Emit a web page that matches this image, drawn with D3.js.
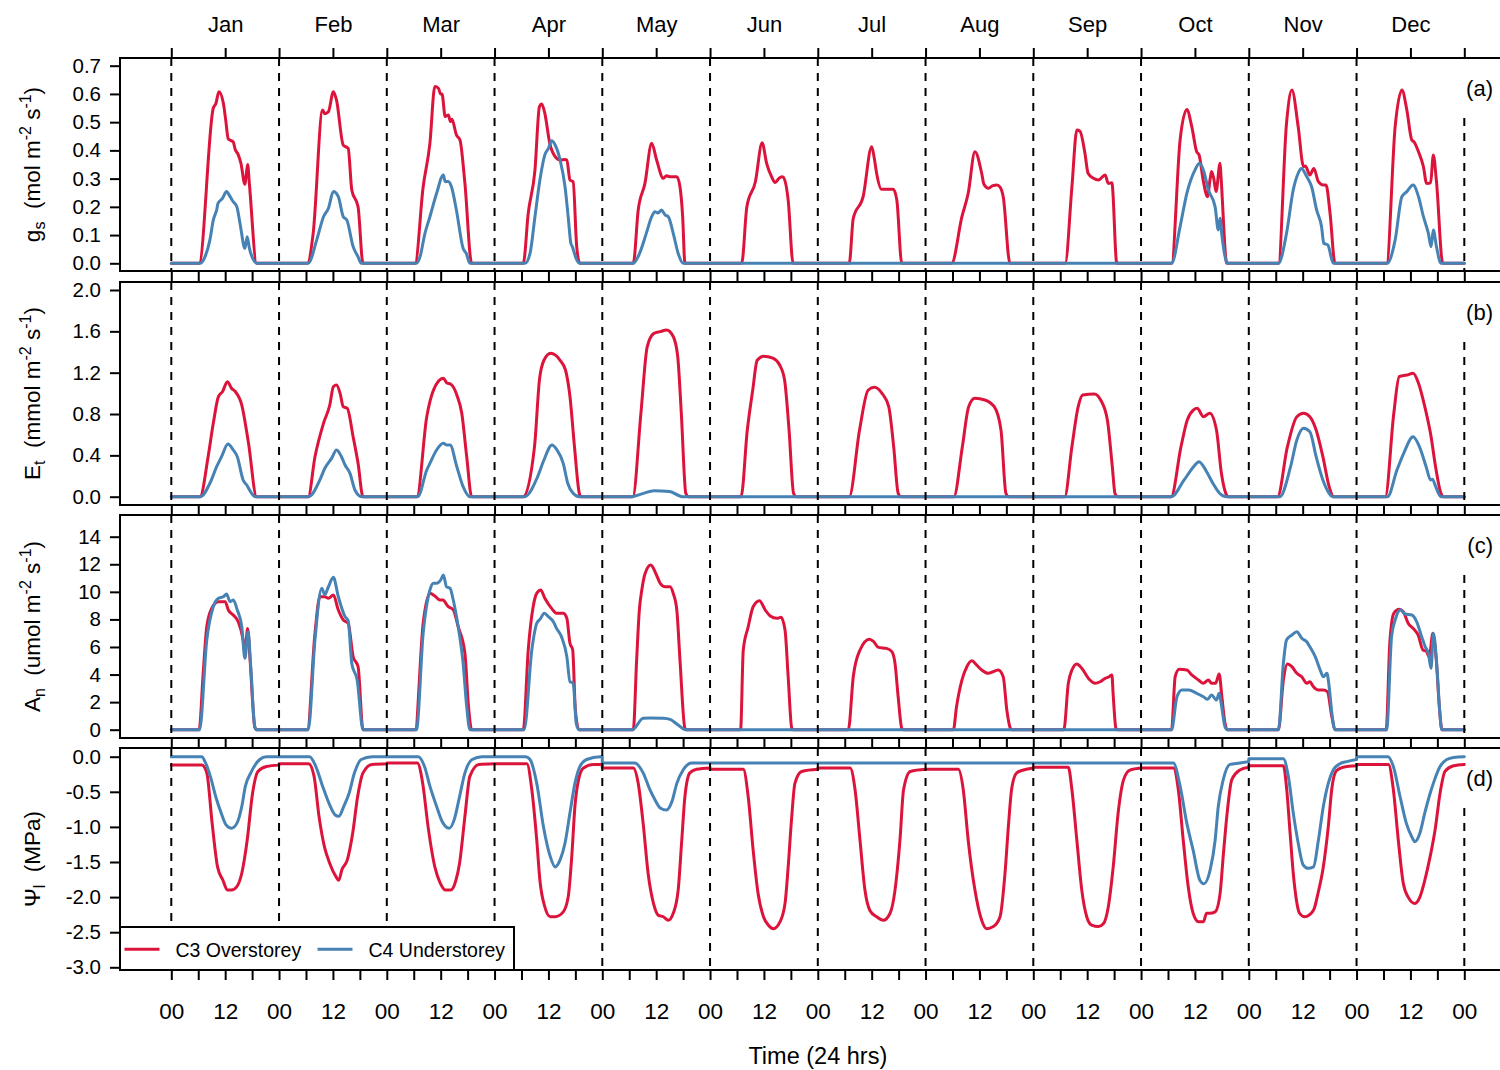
<!DOCTYPE html>
<html>
<head>
<meta charset="utf-8">
<script src="https://cdn.jsdelivr.net/npm/d3@7"></script>
<style>
  body { margin: 0; background: #fff; }
  svg { display: block; font-family: "Liberation Sans", Arial, Helvetica, sans-serif; }
</style>
</head>
<body>
<div id="wrapper"></div>
<script>
// Data: one list of [hour, value] readings per month (a single representative day)
const months = ["Jan", "Feb", "Mar", "Apr", "May", "Jun", "Jul", "Aug", "Sep", "Oct", "Nov", "Dec"];
const seriesNames = ["C3 Overstorey", "C4 Understorey"];

const gsTicks = [0, 0.1, 0.2, 0.3, 0.4, 0.5, 0.6, 0.7];
const etTicks = [0, 0.4, 0.8, 1.2, 1.6, 2.0];
const anTicks = [0, 2, 4, 6, 8, 10, 12, 14];
const psiTicks = [0, -0.5, -1.0, -1.5, -2.0, -2.5, -3.0];

// (a) stomatal conductance, mol m-2 s-1
const gsC3 = [
  [[0,0],[6.2,0],[9.35,0.55],[9.95,0.567],[10.6,0.608],[11.6,0.567],[12.1,0.51],[12.7,0.44],[13.8,0.43],[14.2,0.405],[14.9,0.385],[15.5,0.355],[16.4,0.28],[16.6,0.3],[17.0,0.35],[17.4,0.28],[19.0,0],[24,0]],
  [[0,0],[6.3,0],[7.6,0.106],[9.7,0.543],[10.2,0.53],[11.0,0.537],[12.1,0.608],[12.8,0.578],[14.3,0.419],[15.4,0.407],[16.2,0.26],[17.6,0.2],[18.7,0],[24,0]],
  [[0,0],[6.3,0],[8.1,0.271],[9.6,0.425],[10.7,0.626],[11.5,0.62],[12.0,0.6],[12.3,0.6],[13.0,0.52],[13.7,0.525],[14.2,0.502],[14.5,0.51],[15.5,0.455],[16.3,0.437],[17.4,0.283],[18.9,0],[24,0]],
  [[0,0],[6.4,0],[7.5,0.177],[9.0,0.33],[10.0,0.555],[10.5,0.564],[11.2,0.531],[12.3,0.425],[13.5,0.378],[14.6,0.366],[15.7,0.368],[16.1,0.366],[16.8,0.295],[17.5,0.289],[18.3,0.059],[19.0,0],[24,0]],
  [[0,0],[6.9,0],[8.0,0.189],[9.5,0.283],[11.0,0.425],[12.1,0.366],[13.6,0.301],[14.3,0.31],[15.1,0.307],[16.6,0.307],[17.3,0.271],[17.9,0.165],[18.4,0],[24,0]],
  [[0,0],[7.05,0],[8.2,0.2],[10.1,0.289],[11.6,0.427],[12.6,0.354],[13.7,0.307],[14.5,0.286],[15.3,0.3],[16.0,0.307],[16.3,0.305],[17.4,0.224],[18.5,0],[24,0]],
  [[0,0],[7.0,0],[7.9,0.159],[10.1,0.236],[12.0,0.413],[12.6,0.37],[13.1,0.319],[14.2,0.262],[16.8,0.262],[17.6,0.224],[18.7,0],[24,0]],
  [[0,0],[5.8,0],[8.1,0.165],[9.5,0.248],[11.0,0.395],[12.5,0.319],[13.0,0.28],[14.0,0.266],[15.0,0.275],[15.9,0.277],[16.6,0.27],[17.3,0.236],[18.8,0],[24,0]],
  [[0,0],[7.1,0],[8.6,0.271],[9.7,0.472],[10.4,0.468],[11.5,0.39],[12.2,0.319],[13.4,0.301],[14.5,0.295],[16.0,0.313],[16.7,0.283],[17.5,0.285],[18.6,0],[24,0]],
  [[0,0],[6.8,0],[8.7,0.437],[10.2,0.545],[11.3,0.484],[12.4,0.395],[12.9,0.385],[13.9,0.289],[14.8,0.236],[15.4,0.3],[15.7,0.325],[16.2,0.3],[16.7,0.254],[17.6,0.354],[17.8,0.31],[19.1,0],[24,0]],
  [[0,0],[6.6,0],[8.4,0.496],[9.6,0.614],[11.0,0.484],[12.2,0.342],[12.6,0.345],[13.6,0.313],[14.5,0.336],[15.5,0.289],[16.6,0.277],[17.2,0.277],[18.1,0.177],[19.2,0],[24,0]],
  [[0,0],[6.7,0],[8.6,0.484],[10.1,0.614],[11.2,0.543],[12.3,0.437],[12.8,0.43],[13.8,0.395],[14.9,0.342],[15.6,0.283],[16.5,0.285],[17.1,0.384],[17.8,0.29],[19.2,0],[24,0]]
];
const gsC4 = [
  [[0,0],[6.4,0],[7.5,0.023],[8.6,0.083],[9.35,0.153],[10.1,0.189],[10.4,0.212],[11.4,0.23],[12.3,0.254],[13.1,0.236],[13.8,0.218],[14.6,0.2],[15.3,0.142],[16.4,0.053],[16.9,0.094],[17.4,0.053],[18.3,0.012],[19.0,0],[24,0]],
  [[0,0],[6.5,0],[8.4,0.083],[9.9,0.165],[11.0,0.195],[12.1,0.254],[13.2,0.236],[14.3,0.165],[15.1,0.153],[16.5,0.059],[17.6,0.023],[18.3,0],[24,0]],
  [[0,0],[6.6,0],[7.4,0.023],[8.5,0.106],[9.6,0.165],[11.1,0.248],[12.6,0.313],[13.0,0.289],[13.7,0.29],[14.4,0.271],[15.5,0.189],[17.0,0.053],[17.7,0.035],[18.5,0],[24,0]],
  [[0,0],[6.8,0],[7.9,0.035],[9.0,0.165],[10.1,0.295],[11.2,0.384],[12.0,0.407],[12.7,0.434],[13.5,0.419],[14.6,0.366],[15.7,0.271],[16.4,0.165],[17.0,0.071],[17.3,0.06],[18.3,0.012],[19.0,0],[24,0]],
  [[0,0],[6.9,0],[8.3,0.035],[9.8,0.106],[11.0,0.165],[11.7,0.183],[12.4,0.178],[13.2,0.189],[14.0,0.171],[14.7,0.165],[15.8,0.106],[16.9,0.035],[18.0,0],[24,0]],
  [[0,0],[24,0]],
  [[0,0],[24,0]],
  [[0,0],[24,0]],
  [[0,0],[24,0]],
  [[0,0],[6.8,0],[8.7,0.13],[10.2,0.248],[12.0,0.33],[13.0,0.354],[13.9,0.33],[15.0,0.26],[16.5,0.2],[17.2,0.118],[17.6,0.16],[18.0,0.1],[18.9,0.012],[19.4,0],[24,0]],
  [[0,0],[6.6,0],[8.4,0.106],[9.9,0.26],[11.0,0.319],[11.7,0.336],[12.9,0.307],[14.0,0.271],[15.1,0.189],[16.2,0.13],[16.7,0.071],[17.6,0.065],[18.8,0],[24,0]],
  [[0,0],[6.8,0],[8.6,0.083],[10.1,0.236],[11.2,0.254],[12.6,0.277],[13.8,0.236],[14.9,0.165],[16.0,0.106],[16.6,0.059],[17.1,0.118],[17.8,0.059],[18.8,0],[24,0]]
];

// (b) transpiration, mmol m-2 s-1
const etC3 = [
  [[0,0],[6.4,0],[8.2,0.387],[9.35,0.71],[10.5,0.968],[11.4,1.016],[12.5,1.113],[13.4,1.049],[14.2,1.02],[15.7,0.887],[17.2,0.517],[19.0,0],[24,0]],
  [[0,0],[6.5,0],[8.0,0.387],[9.9,0.71],[11.3,0.887],[12.1,1.064],[12.8,1.08],[13.6,1.0],[14.3,0.871],[15.2,0.855],[16.5,0.58],[17.6,0.323],[18.7,0],[24,0]],
  [[0,0],[6.7,0],[8.9,0.774],[10.4,1.032],[12.6,1.145],[13.4,1.1],[14.2,1.09],[15.6,0.984],[16.7,0.807],[17.8,0.387],[18.9,0],[24,0]],
  [[0,0],[6.4,0],[8.9,0.484],[10.0,1.13],[11.0,1.32],[12.5,1.387],[14.6,1.32],[15.8,1.226],[16.8,0.968],[17.8,0.484],[18.9,0.03],[19.3,0],[24,0]],
  [[0,0],[6.8,0],[8.6,0.807],[10.0,1.45],[11.5,1.58],[12.9,1.597],[14.3,1.613],[15.8,1.55],[16.8,1.355],[17.6,0.807],[18.6,0.033],[19.2,0],[24,0]],
  [[0,0],[6.9,0],[8.3,0.645],[9.5,1.03],[10.5,1.32],[11.9,1.36],[14.0,1.34],[15.5,1.274],[16.6,1.13],[17.6,0.645],[18.6,0.033],[19.2,0],[24,0]],
  [[0,0],[7.0,0],[9.3,0.645],[11.2,1.03],[12.6,1.058],[14.3,1.0],[15.8,0.871],[16.9,0.484],[17.9,0.033],[18.5,0],[24,0]],
  [[0,0],[6.3,0],[8.2,0.484],[9.6,0.871],[11.0,0.952],[13.2,0.936],[15.3,0.871],[16.8,0.645],[17.9,0.033],[18.5,0],[24,0]],
  [[0,0],[7.0,0],[8.6,0.484],[10.0,0.871],[11.0,0.984],[13.6,0.994],[15.0,0.936],[16.5,0.742],[17.6,0.29],[18.2,0.03],[18.8,0],[24,0]],
  [[0,0],[6.7,0],[8.9,0.484],[10.3,0.742],[11.7,0.839],[12.5,0.855],[13.9,0.774],[15.3,0.807],[16.8,0.645],[17.9,0.226],[18.9,0.03],[19.5,0],[24,0]],
  [[0,0],[6.4,0],[8.6,0.484],[10.7,0.774],[12.2,0.807],[13.6,0.774],[15.0,0.645],[16.5,0.387],[17.9,0.097],[18.9,0],[24,0]],
  [[0,0],[6.4,0],[8.3,0.807],[9.5,1.161],[11.2,1.177],[12.6,1.194],[13.8,1.097],[15.2,0.871],[16.6,0.58],[17.6,0.29],[18.8,0.033],[19.3,0],[24,0]]
];
const etC4 = [
  [[0,0],[6.5,0],[8.6,0.13],[10.1,0.29],[11.2,0.387],[12.6,0.51],[13.8,0.452],[14.7,0.387],[16.0,0.162],[16.8,0.113],[17.9,0.033],[18.6,0],[24,0]],
  [[0,0],[6.6,0],[9.1,0.162],[10.2,0.275],[11.7,0.371],[12.8,0.452],[13.9,0.387],[14.7,0.307],[15.8,0.226],[16.9,0.065],[18.4,0],[24,0]],
  [[0,0],[6.9,0],[8.9,0.258],[9.6,0.323],[11.1,0.452],[12.6,0.516],[13.4,0.5],[14.1,0.5],[15.6,0.29],[17.0,0.097],[18.5,0],[24,0]],
  [[0,0],[6.7,0],[9.6,0.194],[11.0,0.355],[12.8,0.5],[13.9,0.452],[15.3,0.323],[16.3,0.13],[17.5,0.033],[18.9,0],[24,0]],
  [[0,0],[6.4,0],[9.0,0.03],[11.5,0.058],[15.0,0.05],[17.9,0],[24,0]],
  [[0,0],[24,0]],
  [[0,0],[24,0]],
  [[0,0],[24,0]],
  [[0,0],[24,0]],
  [[0,0],[6.7,0],[9.6,0.162],[11.7,0.29],[12.9,0.339],[14.6,0.242],[16.0,0.13],[17.5,0.033],[18.9,0],[24,0]],
  [[0,0],[6.9,0],[9.3,0.29],[10.7,0.549],[12.2,0.662],[13.6,0.629],[15.0,0.387],[16.5,0.162],[17.9,0.033],[18.6,0],[24,0]],
  [[0,0],[6.9,0],[9.0,0.258],[10.5,0.42],[12.6,0.58],[14.0,0.484],[15.5,0.29],[16.5,0.162],[16.9,0.17],[17.6,0.1],[18.8,0],[24,0]]
];

// (c) net assimilation, umol m-2 s-1
const anC3 = [
  [[0,0],[6.2,0],[7.1,4.09],[7.9,7.47],[9.0,8.8],[10.5,9.29],[12.0,9.29],[12.7,8.68],[13.8,8.32],[14.9,7.83],[16.0,6.51],[16.4,5.54],[17.0,7.35],[17.5,5.3],[18.6,0.2],[19.0,0],[24,0]],
  [[0,0],[6.3,0],[8.0,6.99],[9.1,9.65],[10.2,9.65],[11.0,9.53],[12.1,9.77],[13.2,8.68],[14.3,7.96],[15.4,7.72],[16.5,5.3],[17.6,4.57],[18.7,0],[24,0]],
  [[0,0],[6.3,0],[8.1,7.72],[9.6,9.89],[10.7,9.7],[11.8,9.41],[12.5,9.4],[13.7,8.92],[14.8,8.7],[15.9,7.47],[17.4,5.54],[18.2,1.67],[18.9,0],[24,0]],
  [[0,0],[6.4,0],[7.5,5.78],[8.6,8.92],[9.4,9.89],[10.3,10.13],[11.2,9.53],[12.7,8.8],[13.8,8.44],[15.3,8.44],[16.1,8.08],[16.8,6.27],[17.4,5.8],[18.0,1.43],[18.8,0],[24,0]],
  [[0,0],[6.9,0],[7.65,5.06],[8.25,8.68],[8.8,10.13],[9.5,11.3],[10.8,11.95],[11.9,11.35],[12.9,10.62],[14.0,10.37],[15.1,10.37],[15.8,9.89],[16.6,8.68],[17.3,5.06],[18.4,0.1],[18.7,0],[24,0]],
  [[0,0],[6.8,0],[7.4,5.78],[8.5,7.47],[9.6,8.92],[11.0,9.36],[12.3,8.68],[13.4,8.25],[14.9,8.08],[15.8,8.15],[16.7,7.23],[17.4,3.84],[18.2,0.1],[18.5,0],[24,0]],
  [[0,0],[6.8,0],[7.9,3.84],[9.4,5.78],[11.5,6.56],[12.4,6.4],[13.5,5.97],[15.3,5.9],[16.5,5.66],[17.2,4.81],[17.9,2.39],[18.7,0.1],[19.0,0],[24,0]],
  [[0,0],[6.2,0],[6.9,1.67],[8.1,3.6],[9.2,4.57],[10.3,5.0],[11.4,4.69],[12.5,4.33],[14.0,4.09],[16.2,4.33],[17.3,3.84],[18.1,1.43],[18.9,0.1],[19.2,0],[24,0]],
  [[0,0],[6.8,0],[7.8,3.37],[8.6,4.33],[9.7,4.77],[10.8,4.45],[12.3,3.72],[13.8,3.37],[14.9,3.48],[16.0,3.72],[16.9,3.84],[17.5,3.97],[17.8,2.5],[18.4,0.1],[18.7,0],[24,0]],
  [[0,0],[6.8,0],[7.6,3.84],[8.5,4.38],[10.2,4.33],[11.3,3.97],[12.8,3.6],[13.9,3.37],[15.0,3.6],[15.7,3.37],[16.6,3.37],[17.4,4.04],[18.0,2.39],[18.7,0.46],[19.2,0],[24,0]],
  [[0,0],[6.6,0],[7.7,3.6],[8.6,4.77],[9.6,4.57],[10.7,4.09],[11.8,3.84],[12.9,3.37],[13.6,3.48],[14.4,3.12],[15.5,2.88],[16.6,2.88],[17.5,2.76],[18.5,0.94],[19.2,0],[24,0]],
  [[0,0],[6.6,0],[7.4,6.27],[8.3,8.44],[9.5,8.73],[10.4,8.56],[11.5,7.72],[12.6,7.35],[13.7,6.87],[14.8,5.78],[15.5,5.7],[16.2,5.3],[17.0,6.99],[17.7,5.3],[18.5,1.43],[19.0,0],[24,0]]
];
const anC4 = [
  [[0,0],[6.3,0],[7.9,6.51],[9.35,8.92],[10.5,9.53],[11.6,9.65],[12.3,9.84],[13.1,9.29],[13.8,9.4],[14.7,8.68],[15.7,7.47],[16.4,5.18],[17.1,7.11],[17.7,4.57],[18.6,0.2],[19.0,0],[24,0]],
  [[0,0],[6.5,0],[8.0,6.51],[9.5,10.26],[10.2,9.8],[11.0,10.37],[12.1,11.05],[13.2,9.65],[14.7,8.2],[15.4,7.9],[16.2,4.81],[17.4,3.6],[18.7,0],[24,0]],
  [[0,0],[6.6,0],[8.1,6.99],[9.6,10.13],[10.4,10.62],[11.1,10.62],[12.0,10.86],[12.6,11.22],[13.3,10.37],[14.1,10.25],[14.8,9.41],[15.9,7.47],[17.0,4.81],[17.8,1.67],[18.5,0],[24,0]],
  [[0,0],[6.6,0],[8.3,5.78],[9.4,7.72],[10.1,8.0],[11.1,8.44],[12.0,8.2],[13.1,7.83],[13.8,7.35],[14.9,6.75],[16.1,5.3],[16.8,3.48],[17.5,3.4],[18.2,0.46],[18.8,0],[24,0]],
  [[0,0],[6.7,0],[9.1,0.83],[10.6,0.85],[13.6,0.83],[15.1,0.75],[16.9,0.34],[18.6,0],[24,0]],
  [[0,0],[24,0]],
  [[0,0],[24,0]],
  [[0,0],[24,0]],
  [[0,0],[24,0]],
  [[0,0],[6.8,0],[8.0,2.39],[9.1,2.88],[10.6,2.88],[12.4,2.64],[13.9,2.39],[14.8,2.2],[15.7,2.52],[16.8,2.15],[17.4,2.64],[17.8,2.0],[18.7,0.22],[19.2,0],[24,0]],
  [[0,0],[6.6,0],[7.7,4.81],[8.4,6.51],[9.6,6.87],[10.7,7.11],[11.8,6.63],[12.9,6.38],[13.6,6.02],[14.8,5.3],[15.9,4.33],[16.6,3.84],[17.4,4.09],[17.9,3.12],[18.5,1.19],[19.2,0],[24,0]],
  [[0,0],[6.7,0],[7.8,6.75],[8.6,7.96],[9.8,8.68],[10.8,8.39],[12.3,8.32],[13.4,7.83],[14.5,6.75],[15.3,6.02],[16.0,5.54],[16.6,4.45],[17.1,6.99],[17.9,4.57],[18.5,1.43],[19.0,0],[24,0]]
];

// (d) leaf water potential, MPa
const psiC3 = [
  [[0,-0.12],[6.8,-0.12],[7.9,-0.23],[9.1,-0.95],[10.3,-1.57],[11.5,-1.76],[12.5,-1.9],[13.4,-1.9],[14.6,-1.85],[15.7,-1.66],[16.9,-1.19],[18.1,-0.52],[19.3,-0.21],[21.2,-0.14],[24,-0.12]],
  [[0,-0.1],[6.6,-0.1],[7.8,-0.28],[8.9,-0.85],[10.1,-1.28],[11.3,-1.52],[12.5,-1.69],[13.3,-1.76],[14.0,-1.61],[15.2,-1.47],[16.4,-1.09],[17.5,-0.57],[18.7,-0.23],[20.7,-0.11],[24,-0.1]],
  [[0,-0.09],[6.8,-0.09],[8.0,-0.38],[9.2,-1.0],[10.7,-1.57],[11.9,-1.8],[13.1,-1.9],[14.2,-1.9],[15.4,-1.76],[16.2,-1.52],[17.4,-0.85],[18.5,-0.28],[20.5,-0.11],[24,-0.1]],
  [[0,-0.1],[7.2,-0.1],[8.3,-0.47],[9.4,-1.19],[10.1,-1.76],[11.2,-2.14],[12.4,-2.28],[13.5,-2.28],[15.3,-2.21],[16.4,-2.0],[17.2,-1.42],[17.9,-0.71],[18.7,-0.33],[19.8,-0.16],[22.0,-0.11],[24,-0.11]],
  [[0,-0.16],[6.9,-0.16],[8.0,-0.38],[9.1,-0.95],[10.2,-1.66],[11.4,-2.09],[12.5,-2.26],[13.6,-2.28],[14.7,-2.33],[15.8,-2.23],[16.9,-1.9],[17.7,-1.19],[18.4,-0.57],[19.5,-0.23],[21.0,-0.18],[24,-0.16]],
  [[0,-0.18],[7.4,-0.18],[8.5,-0.57],[9.6,-1.33],[10.7,-1.95],[11.9,-2.28],[13.0,-2.4],[14.1,-2.45],[15.6,-2.35],[16.7,-2.09],[17.4,-1.57],[18.2,-0.85],[18.9,-0.38],[20.4,-0.21],[24,-0.18]],
  [[0,-0.16],[7.2,-0.16],[8.3,-0.47],[9.4,-1.19],[10.5,-1.9],[11.6,-2.19],[13.1,-2.28],[14.6,-2.33],[16.1,-2.23],[17.2,-1.9],[18.3,-1.19],[19.1,-0.47],[20.6,-0.21],[24,-0.18]],
  [[0,-0.18],[7.3,-0.18],[8.4,-0.47],[9.5,-1.19],[11.0,-1.9],[12.5,-2.33],[13.6,-2.45],[15.1,-2.42],[16.6,-2.28],[17.7,-1.66],[18.5,-0.95],[19.2,-0.45],[20.3,-0.23],[21.8,-0.19],[24,-0.16]],
  [[0,-0.15],[7.8,-0.15],[8.6,-0.47],[9.7,-1.19],[10.8,-1.9],[11.9,-2.28],[13.0,-2.4],[14.5,-2.42],[15.6,-2.38],[16.7,-2.14],[17.8,-1.57],[18.9,-0.8],[20.1,-0.33],[21.5,-0.19],[24,-0.16]],
  [[0,-0.16],[7.2,-0.16],[8.3,-0.47],[9.4,-1.19],[10.5,-1.85],[11.6,-2.23],[12.8,-2.35],[13.9,-2.35],[14.6,-2.23],[15.3,-2.23],[16.5,-2.21],[17.6,-1.95],[18.3,-1.42],[19.1,-0.85],[20.2,-0.33],[22.0,-0.19],[24,-0.15]],
  [[0,-0.13],[7.7,-0.13],[8.45,-0.47],[9.2,-1.09],[9.9,-1.66],[10.6,-2.04],[11.3,-2.23],[12.4,-2.28],[13.9,-2.23],[14.6,-2.16],[15.4,-1.95],[16.5,-1.61],[17.7,-1.0],[18.5,-0.45],[19.5,-0.2],[21.0,-0.15],[24,-0.13]],
  [[0,-0.11],[7.1,-0.11],[8.2,-0.47],[9.3,-1.19],[10.4,-1.8],[11.5,-2.0],[13.0,-2.09],[14.1,-2.0],[15.2,-1.76],[16.4,-1.42],[17.5,-1.04],[18.6,-0.52],[19.7,-0.21],[21.6,-0.13],[24,-0.11]]
];
const psiC4 = [
  [[0,0],[6.8,0],[7.5,-0.07],[8.7,-0.28],[9.9,-0.57],[11.1,-0.8],[12.2,-0.97],[13.4,-1.02],[14.6,-0.95],[15.7,-0.71],[16.5,-0.42],[17.7,-0.23],[19.7,-0.04],[21.2,0],[24,0]],
  [[0,0],[6.8,0],[8.2,-0.14],[9.7,-0.42],[11.3,-0.69],[12.5,-0.83],[13.3,-0.85],[14.4,-0.71],[15.6,-0.52],[16.8,-0.23],[18.3,-0.04],[20.7,0],[24,0]],
  [[0,0],[7.0,0],[8.4,-0.14],[9.6,-0.42],[11.1,-0.71],[12.3,-0.92],[13.9,-1.02],[15.0,-0.9],[16.2,-0.57],[17.4,-0.23],[19.0,-0.04],[21.2,0],[24,0]],
  [[0,0],[6.9,0],[7.9,-0.04],[9.4,-0.38],[10.9,-1.0],[12.4,-1.42],[13.5,-1.57],[14.6,-1.47],[15.7,-1.23],[16.8,-0.8],[17.9,-0.38],[19.0,-0.14],[20.5,-0.04],[23.5,0],[24,0]],
  [[0,-0.09],[7.2,-0.09],[9.1,-0.23],[10.6,-0.47],[11.7,-0.61],[12.9,-0.73],[14.3,-0.76],[15.5,-0.64],[16.6,-0.38],[18.0,-0.19],[19.9,-0.09],[24,-0.09]],
  [[0,-0.09],[24,-0.09]],
  [[0,-0.09],[24,-0.09]],
  [[0,-0.09],[24,-0.09]],
  [[0,-0.09],[24,-0.09]],
  [[0,-0.09],[7.2,-0.09],[8.7,-0.42],[10.2,-0.95],[11.6,-1.33],[13.1,-1.76],[14.0,-1.81],[15.4,-1.61],[16.5,-1.19],[17.2,-0.71],[18.3,-0.33],[19.8,-0.11],[22.0,-0.09],[24,-0.07]],
  [[0,-0.03],[7.7,-0.03],[8.8,-0.28],[9.9,-0.8],[11.0,-1.23],[12.1,-1.54],[13.2,-1.59],[14.4,-1.57],[15.5,-1.19],[16.6,-0.71],[17.7,-0.38],[18.8,-0.19],[20.3,-0.1],[21.8,-0.07],[24,-0.04]],
  [[0,0],[7.0,0],[8.2,-0.14],[9.7,-0.57],[11.1,-0.95],[12.3,-1.14],[13.0,-1.21],[14.1,-1.09],[15.2,-0.8],[16.4,-0.52],[17.1,-0.38],[18.6,-0.14],[20.1,-0.04],[21.6,-0.01],[24,0]]
];

// Dimensions
const width = 1500;
const height = 1070;
const boxLeft = 120;
const boxRight = 1502;          // right edge runs off the picture, as in the original
const colors = { c3: "crimson", c4: "steelblue" };

const xScale = d3.scaleLinear()
  .domain([0, months.length * 24])
  .range([171.3, 1464.3]);

const panels = [
  { tag: "(a)", c3: gsC3, c4: gsC4, top: 58, bottom: 271, ticks: gsTicks,
    yScale: d3.scaleLinear().domain([0, 0.7]).range([263.3, 65.7]), fmt: d3.format(".1f"),
    title: [["g", ""], ["s", "sub"], ["  (mol m", ""], ["-2", "sup"], [" s", ""], ["-1", "sup"], [")", ""]] },
  { tag: "(b)", c3: etC3, c4: etC4, top: 282, bottom: 505, ticks: etTicks,
    yScale: d3.scaleLinear().domain([0, 2]).range([496.7, 290]), fmt: d3.format(".1f"),
    title: [["E", ""], ["t", "sub"], ["  (mmol m", ""], ["-2", "sup"], [" s", ""], ["-1", "sup"], [")", ""]] },
  { tag: "(c)", c3: anC3, c4: anC4, top: 515, bottom: 738, ticks: anTicks,
    yScale: d3.scaleLinear().domain([0, 14]).range([729.7, 536.7]), fmt: d3.format("d"),
    title: [["A", ""], ["n", "sub"], ["  (umol m", ""], ["-2", "sup"], [" s", ""], ["-1", "sup"], [")", ""]] },
  { tag: "(d)", c3: psiC3, c4: psiC4, top: 748, bottom: 970, ticks: psiTicks,
    yScale: d3.scaleLinear().domain([-3, 0]).range([967.3, 756.7]), fmt: d => d3.format(".1f")(d).replace("−", "-"),
    title: [["Ψ", ""], ["l", "sub"], ["  (MPa)", ""]] }
];

// Draw Canvas
const svg = d3.select("#wrapper")
  .append("svg")
    .attr("width", width)
    .attr("height", height);

const dayStarts = d3.range(0, months.length * 24 + 1, 24);
const sixHours = d3.range(0, months.length * 24 + 1, 6);
const halfDays = d3.range(0, months.length * 24 + 1, 12);

function seriesPath(days, yScale) {
  const line = d3.line()
    .x(d => xScale(d[0]))
    .y(d => yScale(d[1]))
    .curve(d3.curveMonotoneX);
  return days.map((day, i) => {
    const p = line(day.map(([h, v]) => [i * 24 + h, v]));
    return i ? p.replace(/^M/, "L") : p;
  }).join("");
}

function styleAxis(g) {
  g.select(".domain").remove();
  g.selectAll(".tick line").attr("stroke", "#000").attr("stroke-width", 2);
  g.selectAll(".tick text").attr("fill", "#000");
}

panels.forEach((p, pi) => {
  const g = svg.append("g");

  // data lines
  ["c3", "c4"].forEach(k => {
    g.append("path")
      .attr("d", seriesPath(p[k], p.yScale))
      .attr("fill", "none")
      .attr("stroke", colors[k])
      .attr("stroke-width", 3)
      .attr("stroke-linejoin", "round")
      .attr("stroke-linecap", "round");
  });

  // dashed day separators (the last one stops short of the panel tag)
  g.selectAll(".sep")
    .data(dayStarts)
    .join("line")
      .attr("x1", d => xScale(d))
      .attr("x2", d => xScale(d))
      .attr("y1", (d, i) => i === dayStarts.length - 1 ? p.top + 60 : p.top)
      .attr("y2", p.bottom)
      .attr("stroke", "#000")
      .attr("stroke-width", 2)
      .attr("stroke-dasharray", "8,7");

  // y axis
  const yAxis = d3.axisLeft(p.yScale)
    .tickValues(p.ticks)
    .tickFormat(p.fmt)
    .tickSize(10)
    .tickPadding(9);
  g.append("g")
    .attr("transform", `translate(${boxLeft},0)`)
    .call(yAxis)
    .call(styleAxis)
    .selectAll("text")
      .attr("font-size", 20.5)
      .attr("font-family", "Liberation Sans, Arial, sans-serif");

  // bottom ticks every 6 hours
  const isLast = pi === panels.length - 1;
  const xAxis = d3.axisBottom(xScale)
    .tickValues(sixHours)
    .tickSize(10)
    .tickPadding(23)
    .tickFormat(d => !isLast ? "" : d % 24 === 0 ? "00" : d % 24 === 12 ? "12" : "");
  g.append("g")
    .attr("transform", `translate(0,${p.bottom})`)
    .call(xAxis)
    .call(styleAxis)
    .selectAll("text")
      .attr("font-size", 22.5)
      .attr("font-family", "Liberation Sans, Arial, sans-serif");

  // panel tag
  g.append("text")
    .attr("x", 1493)
    .attr("y", p.top + 38)
    .attr("text-anchor", "end")
    .attr("font-size", 22)
    .text(p.tag);

  // y title with sub/superscripts
  const title = g.append("text")
    .attr("transform", `translate(40,${(p.top + p.bottom) / 2}) rotate(-90)`)
    .attr("text-anchor", "middle")
    .attr("font-size", 22.5)
    .style("white-space", "pre");
  let shift = 0;
  p.title.forEach(([t, kind]) => {
    const target = kind === "sup" ? -9 : kind === "sub" ? 5 : 0;
    title.append("tspan")
      .attr("dy", target - shift)
      .attr("font-size", kind ? 16 : null)
      .text(t);
    shift = target;
  });
});

// top axis: months
const topAxis = d3.axisTop(xScale)
  .tickValues(halfDays)
  .tickSize(10)
  .tickPadding(16)
  .tickFormat(d => d % 24 === 12 ? months[Math.floor(d / 24)] : "");
svg.append("g")
  .attr("transform", `translate(0,${panels[0].top})`)
  .call(topAxis)
  .call(styleAxis)
  .selectAll("text")
    .attr("font-size", 22)
    .attr("font-family", "Liberation Sans, Arial, sans-serif");

// legend in the bottom-left of panel (d)
const last = panels[panels.length - 1];
const legend = svg.append("g");
legend.append("rect")
  .attr("x", boxLeft)
  .attr("y", 927)
  .attr("width", 394)
  .attr("height", last.bottom - 927)
  .attr("fill", "#fff")
  .attr("stroke", "#000")
  .attr("stroke-width", 2);
[["c3", 124.5], ["c4", 317.5]].forEach(([k, lx], i) => {
  legend.append("line")
    .attr("x1", lx).attr("x2", lx + 35)
    .attr("y1", 949.3).attr("y2", 949.3)
    .attr("stroke", colors[k])
    .attr("stroke-width", 3);
  legend.append("text")
    .attr("x", lx + 51)
    .attr("y", 956.5)
    .attr("font-size", 19.5)
    .text(seriesNames[i]);
});

// panel boxes
panels.forEach(p => {
  svg.append("rect")
    .attr("x", boxLeft)
    .attr("y", p.top)
    .attr("width", boxRight - boxLeft)
    .attr("height", p.bottom - p.top)
    .attr("fill", "none")
    .attr("stroke", "#000")
    .attr("stroke-width", 2);
});

// x title
svg.append("text")
  .attr("x", xScale(months.length * 12))
  .attr("y", 1064)
  .attr("text-anchor", "middle")
  .attr("font-size", 23.5)
  .text("Time (24 hrs)");
</script>
</body>
</html>
